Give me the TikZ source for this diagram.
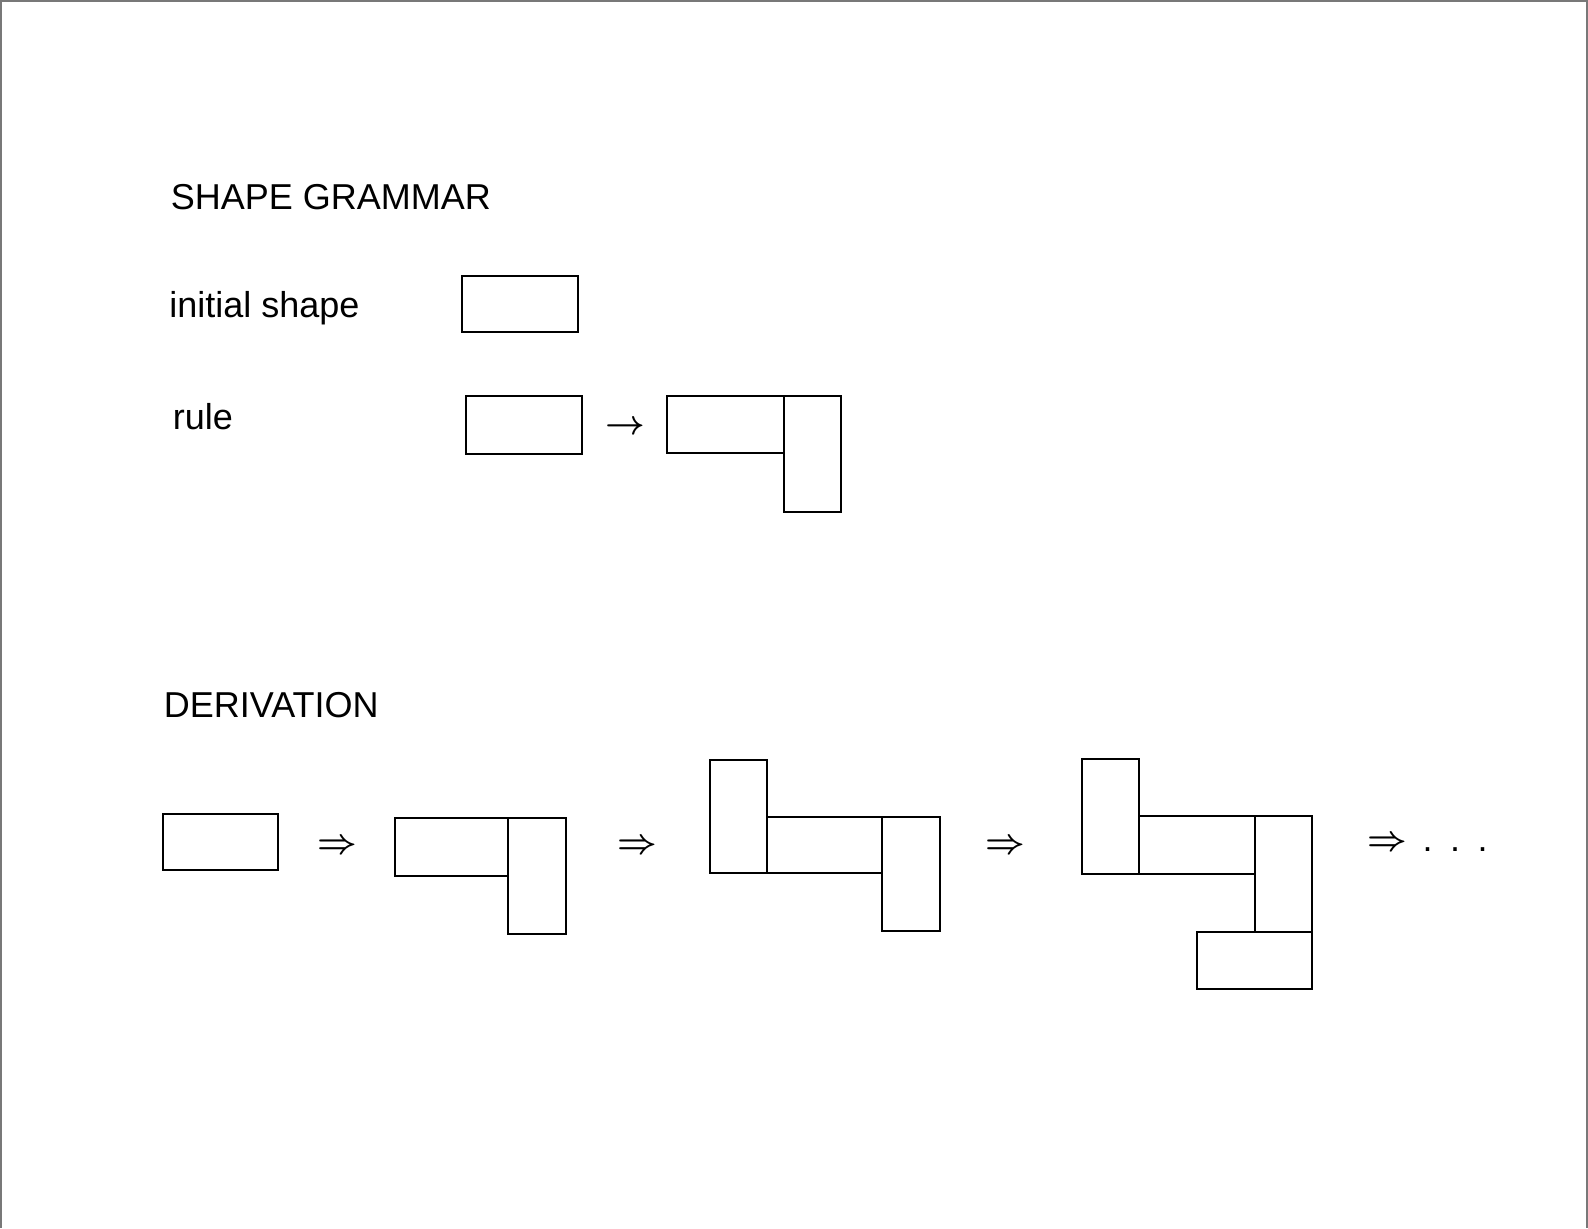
\documentclass[tikz,border=0pt]{standalone}
\usepackage{fontspec}
\setmainfont{Liberation Sans}
\definecolor{framegray}{RGB}{120,120,120}
\begin{document}
\begin{tikzpicture}[x=0.5pt,y=-0.5pt,
  shp/.style={draw=black,line width=1pt},
  lbl/.style={anchor=base west,inner sep=0pt,font=\fontsize{18}{20}\selectfont},
  arr/.style={inner sep=0pt,font=\fontsize{18}{20}\selectfont\boldmath}]
\useasboundingbox (0,0) rectangle (1588,1228);
\draw[framegray,line width=1pt] (1,1228) -- (1,1) -- (1587,1) -- (1587,1228);
% labels
\node[lbl] (title1) at (170.5,209) {SHAPE GRAMMAR};
\node[lbl] (init) at (169,317) {initial shape};
\node[lbl] (rule) at (172.5,429) {rule};
\node[lbl] (title2) at (163.5,717) {DERIVATION};
% initial shape
\draw[shp] (462,276) rectangle (578,332);
% rule
\draw[shp] (466,396) rectangle (582,454);
\node[arr] (ra) at (625,428) {$\rightarrow$};
\draw[shp] (667,396) rectangle (784,453);
\draw[shp] (784,396) rectangle (841,512);
% derivation step 1
\draw[shp] (163,814) rectangle (278,870);
\node[arr] (d1) at (337.5,847) {$\Rightarrow$};
% step 2
\draw[shp] (395,818) rectangle (508,876);
\draw[shp] (508,818) rectangle (566,934);
\node[arr] (d2) at (637,847) {$\Rightarrow$};
% step 3
\draw[shp] (710,760) rectangle (767,873);
\draw[shp] (767,817) rectangle (882,873);
\draw[shp] (882,817) rectangle (940,931);
\node[arr] (d3) at (1005,847) {$\Rightarrow$};
% step 4
\draw[shp] (1082,759) rectangle (1139,874);
\draw[shp] (1139,816) rectangle (1255,874);
\draw[shp] (1255,816) rectangle (1312,932);
\draw[shp] (1197,932) rectangle (1312,989);
\node[arr] (d4) at (1387.5,844) {$\Rightarrow$};
\node[lbl] (dots) at (1422.3,851) {\makebox[13.75pt][l]{.}\makebox[13.75pt][l]{.}.};
\end{tikzpicture}
\end{document}
